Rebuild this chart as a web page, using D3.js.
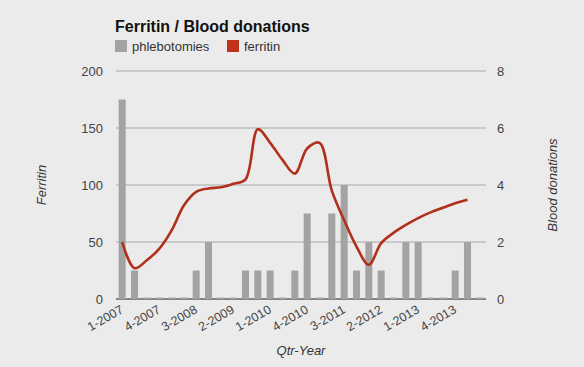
<!DOCTYPE html>
<html lang="en">
<head>
<meta charset="UTF-8">
<title>Ferritin / Blood donations</title>
<style>
  html, body {
    margin: 0;
    padding: 0;
    overflow: hidden;
    background: #ebebeb;
    font-family: Arial, 'Liberation Sans', sans-serif;
  }
  svg { display: block; }
</style>
</head>
<body>
<svg width="584" height="367"></svg>
<script src="https://d3js.org/d3.v7.min.js"></script>
<script>
// quarters 1-2007 .. 2-2014
const quarters = [];
for (let y = 2007; y <= 2014; y++) {
  for (let q = 1; q <= 4; q++) {
    if (quarters.length < 30) quarters.push(q + "-" + y);
  }
}

// blood donations per quarter (right axis)
const phlebotomies = [7, 1, 0, 0, 0, 0, 1, 2, 0, 0,
                      1, 1, 1, 0, 1, 3, 0, 3, 4, 1,
                      2, 1, 0, 2, 2, 0, 0, 1, 2, 0];

// ferritin per quarter (left axis)
const ferritin = [50, 27, 34, 44, 60, 82, 94, 97, 98, 101,
                  105, 149, 137, 122, 110, 132, 137, 95, 69, 46,
                  30, 49, 58, 65, 71, 76, 80, 84, 87, null];

const leftTicks = [0, 50, 100, 150, 200];
const rightTicks = [0, 2, 4, 6, 8];

const svg = d3.select("svg");
const plotL = 116, plotR = 486, plotT = 71, plotB = 299;

const x = d3.scaleBand().domain(quarters).range([plotL, plotR]).paddingInner(0.43).paddingOuter(0.215);
const yL = d3.scaleLinear().domain([0, 200]).range([plotB, plotT]);
const yR = d3.scaleLinear().domain([0, 8]).range([plotB, plotT]);

// gridlines
svg.append("g")
  .selectAll("line")
  .data(leftTicks.filter(d => d > 0))
  .join("line")
  .attr("x1", plotL).attr("x2", plotR)
  .attr("y1", d => yL(d)).attr("y2", d => yL(d))
  .attr("stroke", "#a8a8a8").attr("stroke-width", 1);

// baseline
svg.append("line")
  .attr("x1", plotL).attr("x2", plotR)
  .attr("y1", plotB).attr("y2", plotB)
  .attr("stroke", "#222").attr("stroke-width", 1.2);

// left axis labels
svg.append("g")
  .selectAll("text")
  .data(leftTicks)
  .join("text")
  .attr("x", 103).attr("y", d => yL(d) + 4.5)
  .attr("text-anchor", "end")
  .attr("font-size", 13).attr("fill", "#444")
  .text(d => d);

// right axis labels
svg.append("g")
  .selectAll("text")
  .data(rightTicks)
  .join("text")
  .attr("x", 497).attr("y", d => yR(d) + 4.5)
  .attr("font-size", 13).attr("fill", "#444")
  .text(d => d);

// bars
svg.append("g")
  .selectAll("rect")
  .data(quarters.map((q, i) => ({ q, v: phlebotomies[i] })))
  .join("rect")
  .attr("x", d => x(d.q))
  .attr("width", x.bandwidth())
  .attr("y", d => Math.min(yR(d.v), plotB - 1.5))
  .attr("height", d => Math.max(plotB - yR(d.v), 1.5))
  .attr("fill", "#a3a3a3");

// ferritin line
const pts = quarters.map((q, i) => ({ q, v: ferritin[i] }));
svg.append("path")
  .datum(pts)
  .attr("fill", "none")
  .attr("stroke", "#b0301c")
  .attr("stroke-width", 2.6)
  .attr("stroke-linejoin", "round")
  .attr("d", d3.line()
    .defined(d => d.v != null)
    .x(d => x(d.q) + x.bandwidth() / 2)
    .y(d => yL(d.v))
    .curve(d3.curveCatmullRom.alpha(0.5)));

// x labels
svg.append("g")
  .selectAll("text")
  .data(quarters.filter((q, i) => i % 3 === 0 && i < 28))
  .join("text")
  .attr("transform", d => `translate(${x(d) + x.bandwidth() / 2 + 2},${312}) rotate(-30)`)
  .attr("text-anchor", "end")
  .attr("font-size", 12.5).attr("fill", "#444")
  .text(d => d);

// axis titles
svg.append("text")
  .attr("transform", "translate(46,185) rotate(-90)")
  .attr("text-anchor", "middle")
  .attr("font-size", 13).attr("font-style", "italic").attr("fill", "#333")
  .text("Ferritin");

svg.append("text")
  .attr("transform", "translate(557,185) rotate(-90)")
  .attr("text-anchor", "middle")
  .attr("font-size", 13).attr("font-style", "italic").attr("fill", "#333")
  .text("Blood donations");

svg.append("text")
  .attr("x", (plotL + plotR) / 2).attr("y", 355)
  .attr("text-anchor", "middle")
  .attr("font-size", 13).attr("font-style", "italic").attr("fill", "#333")
  .text("Qtr-Year");

// title
svg.append("text")
  .attr("x", 115).attr("y", 31.5)
  .attr("font-size", 16).attr("font-weight", "bold").attr("fill", "#111")
  .text("Ferritin / Blood donations");

// legend
const legend = [
  { name: "phlebotomies", color: "#a3a3a3", x: 115 },
  { name: "ferritin", color: "#c0311a", x: 227 }
];
const lg = svg.append("g").selectAll("g").data(legend).join("g")
  .attr("transform", d => `translate(${d.x},40)`);
lg.append("rect").attr("width", 12).attr("height", 12).attr("fill", d => d.color);
lg.append("text").attr("x", 17).attr("y", 10.5)
  .attr("font-size", 13).attr("fill", "#333")
  .text(d => d.name);
</script>
</body>
</html>
